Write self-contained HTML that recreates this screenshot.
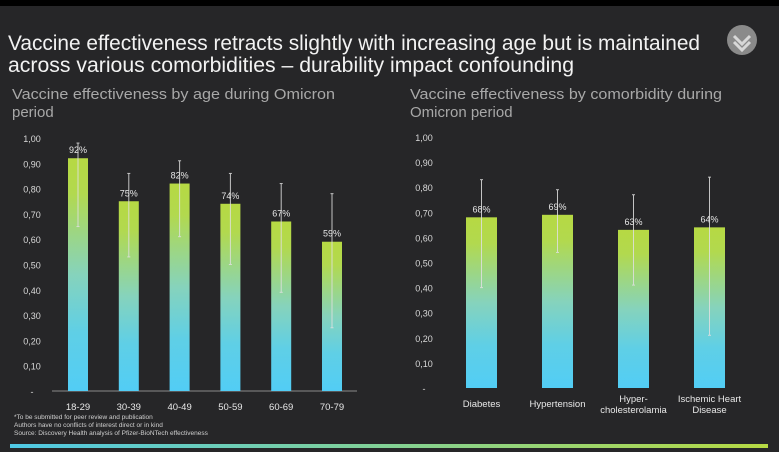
<!DOCTYPE html>
<html><head><meta charset="utf-8"><style>
html,body{margin:0;padding:0;background:#262628;}
svg{display:block;font-family:"Liberation Sans",sans-serif;}
</style></head><body>
<svg id="c" width="779" height="452" viewBox="0 0 779 452">
<defs>
<linearGradient id="bg" x1="0" y1="0" x2="0" y2="1">
<stop offset="0" stop-color="#b6d943"/><stop offset="0.15" stop-color="#b2d94e"/><stop offset="0.5" stop-color="#86d3bc"/><stop offset="0.75" stop-color="#5fcfe6"/><stop offset="1" stop-color="#52cdf5"/>
</linearGradient>
<linearGradient id="bl" x1="0" y1="0" x2="1" y2="0">
<stop offset="0" stop-color="#4fc9e6"/><stop offset="1" stop-color="#b6d943"/>
</linearGradient>
</defs>
<rect x="0" y="0" width="779" height="6" fill="#000"/>
<text x="8" y="50" fill="#f2f2f2" font-size="21" textLength="692" lengthAdjust="spacingAndGlyphs">Vaccine effectiveness retracts slightly with increasing age but is maintained</text>
<text x="8" y="72" fill="#f2f2f2" font-size="21" textLength="566" lengthAdjust="spacingAndGlyphs">across various comorbidities – durability impact confounding</text>
<g>
<circle cx="742" cy="40" r="15" fill="#8a8a8a"/>
<path d="M734 36 L742 44 L750 36 M734 42 L742 50 L750 42" stroke="#d8d8d8" stroke-width="3" fill="none"/>
</g>
<text x="12" y="99" fill="#a8a8a8" font-size="15" textLength="323" lengthAdjust="spacingAndGlyphs">Vaccine effectiveness by age during Omicron</text>
<text x="12" y="117" fill="#a8a8a8" font-size="15">period</text>
<text x="410" y="99" fill="#a8a8a8" font-size="15" textLength="312" lengthAdjust="spacingAndGlyphs">Vaccine effectiveness by comorbidity during</text>
<text x="410" y="117" fill="#a8a8a8" font-size="15">Omicron period</text>
<g id="left"></g>
<g id="right"></g>
<text x="14" y="419" fill="#d0d0d0" font-size="6.5">*To be submitted for peer review and publication</text>
<text x="14" y="427" fill="#d0d0d0" font-size="6.5">Authors have no conflicts of interest direct or in kind</text>
<text x="14" y="435" fill="#d0d0d0" font-size="6.5">Source: Discovery Health analysis of Pfizer-BioNTech effectiveness</text>
<rect x="10" y="444" width="758" height="4" fill="url(#bl)"/>
</svg>
<script>
const ageCats=["18-29","30-39","40-49","50-59","60-69","70-79"];
const ageVals=[0.92,0.75,0.82,0.74,0.67,0.59];
const ageLow=[0.65,0.53,0.61,0.50,0.39,0.25];
const ageHigh=[0.98,0.86,0.91,0.86,0.82,0.78];
const comCats=[["Diabetes"],["Hypertension"],["Hyper-","cholesterolamia"],["Ischemic Heart","Disease"]];
const comVals=[0.68,0.69,0.63,0.64];
const comLow=[0.40,0.54,0.41,0.21];
const comHigh=[0.83,0.79,0.77,0.84];
const tickVals=[0,0.1,0.2,0.3,0.4,0.5,0.6,0.7,0.8,0.9,1.0];
const tickLabels=["-","0,10","0,20","0,30","0,40","0,50","0,60","0,70","0,80","0,90","1,00"];
const NS="http://www.w3.org/2000/svg";
function mk(p,t,a){const e=document.createElementNS(NS,t);for(const k in a)e.setAttribute(k,a[k]);p.appendChild(e);return e;}
function draw(g,o){
  const y=v=>o.y0-v*(o.y0-o.y1);
  const x=i=>o.x0+i*o.step;
  tickVals.forEach((v,i)=>{const t=mk(g,'text',{x:o.tx,y:y(v)+4,fill:'#d8d8d8','font-size':9,'text-anchor':'middle'});t.textContent=tickLabels[i];
    
    });
  if(o.axis){const l=mk(g,'line',{x1:o.ax1,x2:o.ax2,y1:o.y0,y2:o.y0,stroke:'#8a8a8a','stroke-width':1});
    
    }
  o.vals.forEach((v,i)=>{
    const cx=x(i);
    const r=mk(g,'rect',{x:cx-o.bw/2,y:y(v),width:o.bw,height:o.y0-y(v),fill:'url(#bg)'});
    
    
    const lbl=mk(g,'text',{x:cx,y:y(v)-5,fill:'#e8e8e8','font-size':9,'text-anchor':'middle'});lbl.textContent=Math.round(v*100)+'%';
    
    
    const eb=mk(g,'g',{stroke:'#e0e0e0','stroke-width':1,opacity:0.85});
    
    
    mk(eb,'line',{x1:cx,x2:cx,y1:y(o.hi[i]),y2:y(o.lo[i])});
    mk(eb,'line',{x1:cx-1.5,x2:cx+1.5,y1:y(o.hi[i]),y2:y(o.hi[i])});
    mk(eb,'line',{x1:cx-1.5,x2:cx+1.5,y1:y(o.lo[i]),y2:y(o.lo[i])});
    o.cats[i].forEach((s,j)=>{const t=mk(g,'text',{x:cx,y:o.y0+19+j*11-(o.cats[i].length>1?5:0),fill:'#e8e8e8','font-size':9.5,'text-anchor':'middle'});t.textContent=s;
      
      });
  });
}
draw(document.getElementById('left'),{cats:ageCats.map(c=>[c]),vals:ageVals,lo:ageLow,hi:ageHigh,x0:78,step:50.8,bw:20,y0:391,y1:138,tx:32,axis:true,ax1:52,ax2:357});
draw(document.getElementById('right'),{cats:comCats,vals:comVals,lo:comLow,hi:comHigh,x0:481.5,step:76,bw:31,y0:388,y1:137,tx:424,axis:false});
</script>
</body></html>
